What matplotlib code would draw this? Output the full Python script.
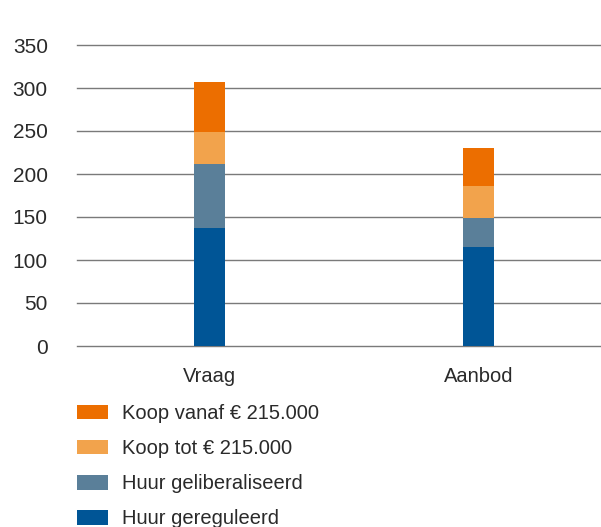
import matplotlib

matplotlib.use("Agg")
import matplotlib.pyplot as plt
import numpy as np

categories = ["Vraag", "Aanbod"]
huur_gereguleerd = [137, 115]
huur_geliberaliseerd = [75, 34]
koop_tot = [37, 37]
koop_vanaf = [58, 44]

series = [
    ("Huur gereguleerd", huur_gereguleerd, "#005596"),
    ("Huur geliberaliseerd", huur_geliberaliseerd, "#5a7f99"),
    ("Koop tot € 215.000", koop_tot, "#f2a34c"),
    ("Koop vanaf € 215.000", koop_vanaf, "#ec6e00"),
]
yticks = [0, 50, 100, 150, 200, 250, 300, 350]

plt.rcParams["font.family"] = ["Liberation Sans", "DejaVu Sans"]
text_color = "#2a2a2a"

fig = plt.figure(figsize=(6.01, 5.27), dpi=100)
ax = fig.add_axes([77 / 601, 181 / 527, 1 - 77 / 601, 301 / 527])

x = np.arange(len(categories))
bottom = np.zeros(len(categories))
handles = []
for label, values, color in series:
    bars = ax.bar(x, values, width=0.115, bottom=bottom, color=color, label=label, zorder=3)
    handles.append(bars)
    bottom += np.array(values)

ax.set_xlim(-0.4926, 1.455)
ax.set_ylim(0, 350)
ax.set_yticks(yticks)
ax.set_xticks(x)
ax.set_xticklabels(categories)
for y in yticks:
    ax.axhline(y, color="#7a7a7a", linewidth=1.0, zorder=1, clip_on=False)

for side in ["top", "right", "left", "bottom"]:
    ax.spines[side].set_visible(False)
ax.tick_params(axis="both", length=0, colors=text_color)
ax.tick_params(axis="y", pad=21, labelsize=15)
ax.tick_params(axis="x", pad=15, labelsize=14.5)

leg = fig.legend(
    handles[::-1],
    [s[0] for s in series][::-1],
    loc="upper left",
    bbox_to_anchor=(69 / 601, 1 - 396 / 527),
    frameon=False,
    fontsize=14.5,
    handlelength=1.55,
    handleheight=0.74,
    handletextpad=0.68,
    labelspacing=0.8,
    borderaxespad=0,
)
for t in leg.get_texts():
    t.set_color(text_color)

fig.savefig("out.png", dpi=100)
